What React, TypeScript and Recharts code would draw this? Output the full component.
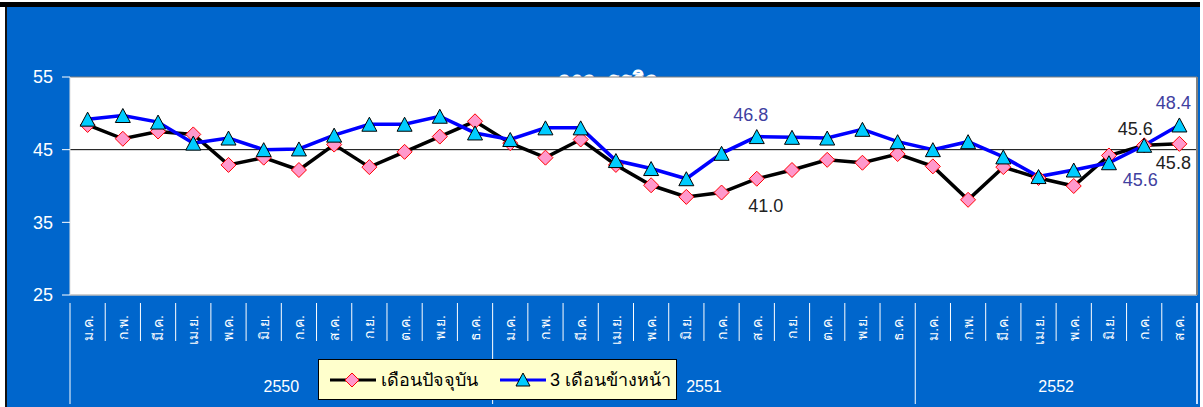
import React from "react";
import {
  LineChart,
  Line,
  XAxis,
  YAxis,
  CartesianGrid,
  ReferenceLine,
} from "recharts";

const months = ["ม.ค.", "ก.พ.", "มี.ค.", "เม.ย.", "พ.ค.", "มิ.ย.", "ก.ค.", "ส.ค.", "ก.ย.", "ต.ค.", "พ.ย.", "ธ.ค."];
const years = ["2550", "2551", "2552"];
const monthsPerYear = [12, 12, 8];

const currentMonth = [
  48.4, 46.5, 47.5, 47.1, 42.9, 43.9, 42.2, 45.7, 42.6, 44.7, 46.8, 48.9,
  45.9, 43.9, 46.4, 42.9, 40.1, 38.5, 39.1, 41.0, 42.2, 43.6, 43.2, 44.4,
  42.7, 38.1, 42.6, 41.1, 40.0, 44.2, 45.6, 45.8,
];
const threeMonthsAhead = [
  49.2, 49.7, 48.8, 45.9, 46.6, 45.0, 45.1, 47.0, 48.5, 48.5, 49.6, 47.3,
  46.4, 48.0, 48.0, 43.5, 42.4, 41.0, 44.5, 46.8, 46.7, 46.6, 47.8, 46.1,
  45.0, 46.1, 44.0, 41.3, 42.2, 43.2, 45.6, 48.4,
];
const yTicks = [25, 35, 45, 55];

const seriesNames = ["เดือนปัจจุบัน", "3 เดือนข้างหน้า"];
const title = "ภาวะธุรกิจ";

type Pos = "above" | "below" | "aboveLeft" | "belowLeft" | "belowFar";
const currentLabels: Record<number, Pos> = {
  19: "below",
  30: "aboveLeft",
  31: "belowLeft",
};
const aheadLabels: Record<number, Pos> = {
  19: "above",
  30: "belowFar",
  31: "above",
};

const data: any[] = [];
{
  let i = 0;
  years.forEach((y, yi) => {
    for (let m = 0; m < monthsPerYear[yi]; m++) {
      data.push({
        key: `${months[m]} ${y}`,
        month: months[m],
        year: y,
        monthIndex: m,
        yearIndex: yi,
        current: currentMonth[i],
        ahead: threeMonthsAhead[i],
      });
      i++;
    }
  });
}

const W = 1203;
const H = 407;
const PLOT_LEFT = 70;
const PLOT_RIGHT = 1197;
const BW = (PLOT_RIGHT - PLOT_LEFT) / data.length;
const BLUE = "#0066CC";
const FONT = "Tahoma, 'Liberation Sans', Arial, sans-serif";
const NUMFONT = "'Liberation Sans', Arial, sans-serif";

const Diamond = (props: any) => {
  const { cx, cy, index } = props;
  if (cx == null || cy == null) return null;
  const r = 7.5;
  return (
    <polygon
      key={`d-${index}`}
      points={`${cx},${cy - r} ${cx + r},${cy} ${cx},${cy + r} ${cx - r},${cy}`}
      fill="#FF99CC"
      stroke="#FF0000"
      strokeWidth={1}
    />
  );
};

const Triangle = (props: any) => {
  const { cx, cy, index } = props;
  if (cx == null || cy == null) return null;
  const w = 7.5;
  const h = 7;
  return (
    <polygon
      key={`t-${index}`}
      points={`${cx},${cy - h} ${cx + w},${cy + h} ${cx - w},${cy + h}`}
      fill="#00CCFF"
      stroke="#000000"
      strokeWidth={1}
    />
  );
};

const makeLabel = (map: Record<number, Pos>, color: string) => (props: any) => {
  const { x, y, value, index } = props;
  const pos = map[index];
  if (!pos) return null;
  let dx = 0;
  let dy = 0;
  if (pos === "above") { dx = -6; dy = -22; }
  if (pos === "below") { dx = 9; dy = 27; }
  if (pos === "aboveLeft") { dx = -9; dy = -16; }
  if (pos === "belowLeft") { dx = -6; dy = 19; }
  if (pos === "belowFar") { dx = -4; dy = 35; }
  return (
    <text
      key={`l-${index}-${color}`}
      x={x + dx}
      y={y + dy}
      textAnchor="middle"
      dominantBaseline="central"
      fill={color}
      fontSize={18}
      fontFamily={NUMFONT}
    >
      {Number(value).toFixed(1)}
    </text>
  );
};

const MonthTick = (props: any) => {
  const { x, y, index } = props;
  const d = data[index];
  if (!d) return null;
  const left = x - BW / 2;
  const firstOfYear = d.monthIndex === 0;
  const last = index === data.length - 1;
  const nInYear = monthsPerYear[d.yearIndex];
  const yearCenter = left + (nInYear * BW) / 2;
  return (
    <g>
      <line x1={left} x2={left} y1={y} y2={firstOfYear ? y + 101 : y + 38} stroke="#FFFFFF" strokeWidth={1} />
      {last && (
        <line x1={x + BW / 2} x2={x + BW / 2} y1={y} y2={y + 101} stroke="#CCE0FF" strokeWidth={2} />
      )}
      <text
        x={x}
        y={y + 12}
        transform={`rotate(-90, ${x}, ${y + 12})`}
        textAnchor="end"
        dominantBaseline="central"
        fill="#FFFFFF"
        fontSize={14}
        fontFamily={FONT}
      >
        {d.month}
      </text>
      {firstOfYear && (
        <text
          x={yearCenter}
          y={y + 83}
          textAnchor="middle"
          dominantBaseline="central"
          fill="#FFFFFF"
          fontSize={16}
          fontFamily={NUMFONT}
        >
          {d.year}
        </text>
      )}
    </g>
  );
};

const LegendBox = () => (
  <div
    style={{
      position: "absolute",
      left: 318,
      top: 359,
      width: 359,
      height: 41,
      boxSizing: "border-box",
      background: "#FFFFCC",
      border: "1.5px solid #000",
      display: "flex",
      alignItems: "center",
      fontFamily: FONT,
      fontSize: 18,
      color: "#000",
      paddingLeft: 11,
    }}
  >
    <svg width={46} height={20} style={{ display: "block" }}>
      <line x1={0} x2={46} y1={10} y2={10} stroke="#000" strokeWidth={3} />
      <polygon points="22,3 29,10 22,17 15,10" fill="#FF99CC" stroke="#FF0000" strokeWidth={1} />
    </svg>
    <span style={{ marginLeft: 5 }}>{seriesNames[0]}</span>
    <svg width={46} height={20} style={{ display: "block", marginLeft: 22 }}>
      <line x1={0} x2={46} y1={10} y2={10} stroke="#0000FF" strokeWidth={3} />
      <polygon points="23,3 30,16 16,16" fill="#00CCFF" stroke="#000" strokeWidth={1} />
    </svg>
    <span style={{ marginLeft: 4 }}>{seriesNames[1]}</span>
  </div>
);

export default function App() {
  return (
    <div style={{ position: "relative", width: W, height: H, background: "#FFFFFF", overflow: "hidden" }}>
      <style>{`body{margin:0;}`}</style>
      <div style={{ position: "absolute", left: 0, top: 2, width: 1200, height: 5, background: "#000" }} />
      <div
        style={{
          position: "absolute",
          left: 5,
          top: 7,
          width: 1195,
          height: 400,
          background: BLUE,
          borderLeft: "2px solid #111",
          boxSizing: "border-box",
        }}
      />
      <div
        style={{
          position: "absolute",
          left: 507,
          top: 68,
          width: 200,
          textAlign: "center",
          color: "#FFFFFF",
          fontFamily: FONT,
          fontWeight: "bold",
          fontSize: 22,
          lineHeight: "26px",
        }}
      >
        {title}
      </div>
      <div style={{ position: "absolute", left: 0, top: 0 }}>
        <LineChart width={W} height={H} data={data} margin={{ top: 77, right: 0, bottom: 0, left: 0 }}>
          <CartesianGrid horizontal vertical={false} stroke="#808080" fill="#FFFFFF" />
          <XAxis
            dataKey="key"
            scale="band"
            interval={0}
            height={112}
            tick={<MonthTick />}
            tickLine={false}
            axisLine={{ stroke: "#E0E0E0" }}
          />
          <YAxis
            yAxisId="left"
            domain={[25, 55]}
            ticks={yTicks}
            width={70}
            tickSize={8}
            tickMargin={9}
            tickLine={{ stroke: "#FFFFFF" }}
            axisLine={{ stroke: "#E0E0E0" }}
            tick={{ fill: "#FFFFFF", fontSize: 18, fontFamily: NUMFONT }}
            allowDataOverflow
          />
          <YAxis yAxisId="right" orientation="right" width={6} tick={false} tickLine={false} axisLine={{ stroke: "#808080", strokeWidth: 2 }} />
          <ReferenceLine yAxisId="left" y={45} stroke="#000000" strokeWidth={1} />
          <Line
            yAxisId="left"
            dataKey="current"
            name={seriesNames[0]}
            stroke="#000000"
            strokeWidth={3.5}
            dot={<Diamond />}
            activeDot={false}
            isAnimationActive={false}
            label={makeLabel(currentLabels, "#222222")}
          />
          <Line
            yAxisId="left"
            dataKey="ahead"
            name={seriesNames[1]}
            stroke="#0000FF"
            strokeWidth={3.5}
            dot={<Triangle />}
            activeDot={false}
            isAnimationActive={false}
            label={makeLabel(aheadLabels, "#4040A0")}
          />
        </LineChart>
      </div>
      <LegendBox />
    </div>
  );
}
